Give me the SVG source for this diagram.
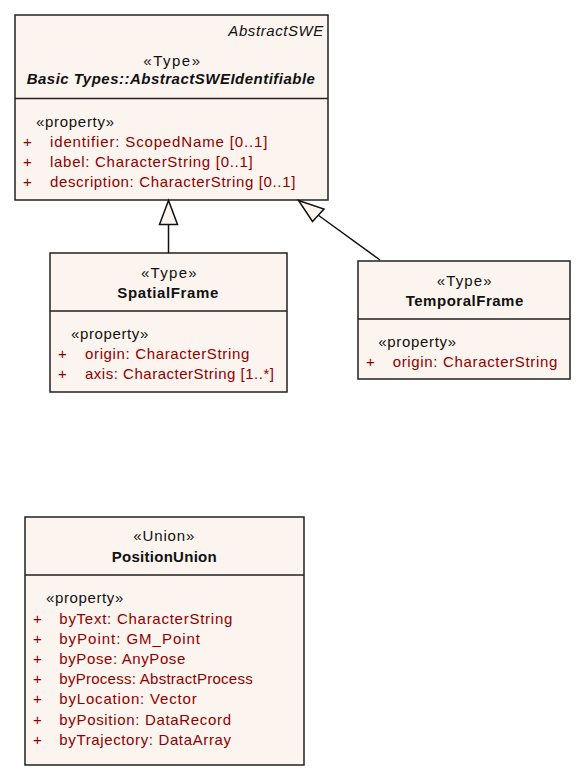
<svg xmlns="http://www.w3.org/2000/svg" width="586" height="781" viewBox="0 0 586 781">
<style>
.box{fill:#FCF4EF;stroke:#222;stroke-width:1.5}
.div{stroke:#222;stroke-width:1.5}
text{font-family:"Liberation Sans",Arial,sans-serif;font-size:15px;fill:#111}
.c{text-anchor:middle}
.b{font-weight:bold}
.i{font-style:italic}
.r{fill:#8E0000}
.edge{stroke:#111;stroke-width:1.5;fill:none}
.tri{fill:#FCF4EF;stroke:#111;stroke-width:1.5}
</style>
<rect width="586" height="781" fill="#fff"/>
<g id="AbstractSWEIdentifiable">
<rect class="box" x="15" y="15" width="313" height="185"/>
<line class="div" x1="15" y1="98.5" x2="328" y2="98.5"/>
<text class="i" x="228.3" y="36" textLength="95" lengthAdjust="spacing">AbstractSWE</text>
<text class="c" x="171.7" y="66" textLength="56.7" lengthAdjust="spacing">«Type»</text>
<text class="c b i" x="170.8" y="84" textLength="288.3" lengthAdjust="spacing">Basic Types::AbstractSWEIdentifiable</text>
<text x="36" y="127" textLength="78" lengthAdjust="spacing">«property»</text>
<text class="r" x="23" y="147">+</text><text class="r" x="50" y="147" textLength="217.3" lengthAdjust="spacing">identifier: ScopedName [0..1]</text>
<text class="r" x="23" y="167">+</text><text class="r" x="50" y="167" textLength="202.7" lengthAdjust="spacing">label: CharacterString [0..1]</text>
<text class="r" x="23" y="187">+</text><text class="r" x="50" y="187" textLength="245.3" lengthAdjust="spacing">description: CharacterString [0..1]</text>
</g>
<g id="SpatialFrame">
<rect class="box" x="50" y="253" width="237" height="139"/>
<line class="div" x1="50" y1="311" x2="287" y2="311"/>
<text class="c" x="168.8" y="278" textLength="55.7" lengthAdjust="spacing">«Type»</text>
<text class="c b" x="167.8" y="298" textLength="101" lengthAdjust="spacing">SpatialFrame</text>
<text x="71" y="339" textLength="77.3" lengthAdjust="spacing">«property»</text>
<text class="r" x="58" y="359">+</text><text class="r" x="85" y="359" textLength="164.3" lengthAdjust="spacing">origin: CharacterString</text>
<text class="r" x="58" y="379">+</text><text class="r" x="85" y="379" textLength="189" lengthAdjust="spacing">axis: CharacterString [1..*]</text>
</g>
<g id="TemporalFrame">
<rect class="box" x="358" y="261" width="212" height="118"/>
<line class="div" x1="358" y1="319" x2="570" y2="319"/>
<text class="c" x="464.2" y="286" textLength="55" lengthAdjust="spacing">«Type»</text>
<text class="c b" x="464.5" y="306" textLength="117.6" lengthAdjust="spacing">TemporalFrame</text>
<text x="378.3" y="347" textLength="77.7" lengthAdjust="spacing">«property»</text>
<text class="r" x="366" y="367">+</text><text class="r" x="392.7" y="367" textLength="164.6" lengthAdjust="spacing">origin: CharacterString</text>
</g>
<g id="PositionUnion">
<rect class="box" x="25" y="517" width="279" height="248"/>
<line class="div" x1="25" y1="575" x2="304" y2="575"/>
<text class="c" x="163.8" y="541" textLength="61" lengthAdjust="spacing">«Union»</text>
<text class="c b" x="164.2" y="562" textLength="105" lengthAdjust="spacing">PositionUnion</text>
<text x="46" y="603" textLength="77.3" lengthAdjust="spacing">«property»</text>
<text class="r" x="33" y="624">+</text><text class="r" x="59.3" y="624" textLength="173" lengthAdjust="spacing">byText: CharacterString</text>
<text class="r" x="33" y="644">+</text><text class="r" x="59.3" y="644" textLength="140.7" lengthAdjust="spacing">byPoint: GM_Point</text>
<text class="r" x="33" y="664">+</text><text class="r" x="59.3" y="664" textLength="126" lengthAdjust="spacing">byPose: AnyPose</text>
<text class="r" x="33" y="684">+</text><text class="r" x="59.3" y="684" textLength="193.4" lengthAdjust="spacing">byProcess: AbstractProcess</text>
<text class="r" x="33" y="704">+</text><text class="r" x="59.3" y="704" textLength="137.4" lengthAdjust="spacing">byLocation: Vector</text>
<text class="r" x="33" y="725">+</text><text class="r" x="59.3" y="725" textLength="171.7" lengthAdjust="spacing">byPosition: DataRecord</text>
<text class="r" x="33" y="745">+</text><text class="r" x="59.3" y="745" textLength="171.7" lengthAdjust="spacing">byTrajectory: DataArray</text>
</g>
<g id="connectors">
<line class="edge" x1="168.5" y1="253" x2="168.5" y2="224.5"/>
<polygon class="tri" points="168.5,200.5 159.5,224.5 177.5,224.5"/>
<line class="edge" x1="380" y1="260" x2="318" y2="215"/>
<polygon class="tri" points="298.5,200.5 324,209 312.5,221.5"/>
</g>
</svg>
